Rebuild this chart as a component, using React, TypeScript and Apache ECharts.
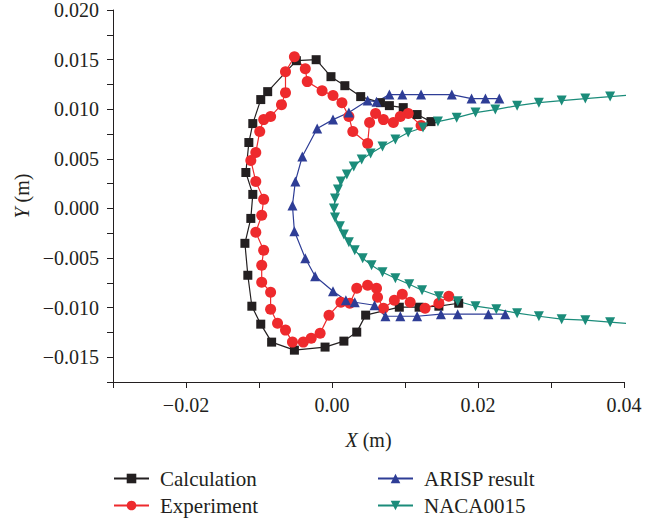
import React, { useEffect, useRef } from "react";
import * as echarts from "echarts";

const seriesNames = ["Calculation", "Experiment", "ARISP result", "NACA0015"];

const calculation: number[][] = [
  [0.01356, 0.00875], [0.01166, 0.00946], [0.00976, 0.01016], [0.00786, 0.01036],
  [0.00664, 0.01066], [0.00393, 0.01127], [0.00176, 0.01237], [-0.00014, 0.01328],
  [-0.00217, 0.01499], [-0.00488, 0.01489], [-0.00881, 0.01177], [-0.00976, 0.01097],
  [-0.01085, 0.00855], [-0.01139, 0.00664], [-0.0118, 0.00362], [-0.01085, 0.00141],
  [-0.01112, -0.00101], [-0.01193, -0.00352], [-0.01153, -0.00674], [-0.01098, -0.00986],
  [-0.00976, -0.01167], [-0.00827, -0.01348], [-0.00515, -0.01429], [-0.00095, -0.01398],
  [0.00163, -0.01338], [0.00339, -0.01247], [0.00461, -0.01076], [0.00922, -0.00996],
  [0.01193, -0.00996], [0.01464, -0.00986], [0.01736, -0.00956],
];

const experiment: number[][] = [
  [0.0122, 0.00835], [0.01044, 0.00956], [0.00936, 0.00926], [0.00841, 0.00865],
  [0.00705, 0.00895], [0.00597, 0.00956], [0.00515, 0.00865], [0.00488, 0.00654],
  [0.00285, 0.00775], [0.00231, 0.00926], [0.00136, 0.01066], [0.00014, 0.01137],
  [-0.00136, 0.01187], [-0.00339, 0.01278], [-0.00366, 0.01408], [-0.00515, 0.01529],
  [-0.00637, 0.01378], [-0.00637, 0.01167], [-0.00692, 0.01046], [-0.00841, 0.00926],
  [-0.00936, 0.00895], [-0.0099, 0.00775], [-0.01044, 0.00563], [-0.01112, 0.00483],
  [-0.01044, 0.00272], [-0.00936, 0.00091], [-0.00963, -0.0007], [-0.01044, -0.00241],
  [-0.00936, -0.00423], [-0.00963, -0.00573], [-0.00963, -0.00744], [-0.00841, -0.00845],
  [-0.00841, -0.01016], [-0.00746, -0.01157], [-0.00637, -0.01227], [-0.00542, -0.01348],
  [-0.00393, -0.01348], [-0.00285, -0.01308], [-0.00163, -0.01258], [-0.00041, -0.01076],
  [0.00122, -0.00946], [0.00244, -0.00956], [0.00339, -0.00805], [0.00488, -0.00775],
  [0.0061, -0.00805], [0.00624, -0.00895], [0.00705, -0.01006], [0.00854, -0.00926],
  [0.00963, -0.00865], [0.01071, -0.00946], [0.01275, -0.01006], [0.01464, -0.00956],
  [0.016, -0.00885],
];

const arisp: number[][] = [
  [0.02292, 0.01107], [0.02102, 0.01107], [0.01912, 0.01107], [0.01641, 0.01147],
  [0.0122, 0.01147], [0.00963, 0.01147], [0.00786, 0.01147], [0.0061, 0.01076],
  [0.00488, 0.01087], [0.00231, 0.00966], [0.00014, 0.00895], [-0.00203, 0.00805],
  [-0.00407, 0.00523], [-0.00502, 0.00272], [-0.00542, 0.0003], [-0.00515, -0.00231],
  [-0.00366, -0.00503], [-0.00231, -0.00684], [0.00014, -0.00835], [0.0019, -0.00926],
  [0.00312, -0.00946], [0.00583, -0.00976], [0.00732, -0.01087], [0.00936, -0.01087],
  [0.01166, -0.01087], [0.01492, -0.01066], [0.01722, -0.01066], [0.02142, -0.01066],
  [0.02373, -0.01066],
];

const naca: number[][] = [
  [0.0415, 0.01145], [0.0381, 0.01127], [0.0347, 0.01107], [0.03146, 0.01087],
  [0.02834, 0.01066], [0.02536, 0.01036], [0.02237, 0.00996], [0.01966, 0.00966],
  [0.01708, 0.00915], [0.01451, 0.00875], [0.01247, 0.00815], [0.01044, 0.00765],
  [0.00868, 0.00694], [0.00692, 0.00624], [0.00529, 0.00553], [0.00407, 0.00493],
  [0.00298, 0.00423], [0.00203, 0.00342], [0.00122, 0.00272], [0.00081, 0.00191],
  [0.00041, 0.00101], [0.00027, 0.0], [0.00041, -0.00091], [0.00108, -0.00181],
  [0.00163, -0.00262], [0.00231, -0.00342], [0.00312, -0.00423], [0.0042, -0.00503],
  [0.00542, -0.00573], [0.00692, -0.00644], [0.00868, -0.00704], [0.01058, -0.00765],
  [0.01234, -0.00825], [0.01464, -0.00885], [0.01722, -0.00936], [0.01966, -0.00986],
  [0.02251, -0.01016], [0.02536, -0.01056], [0.02834, -0.01087], [0.03146, -0.01117],
  [0.0347, -0.01127], [0.0381, -0.01147], [0.0415, -0.01165],
];

const xLabelValues = [-0.02, 0.0, 0.02, 0.04];
const yLabelValues = [-0.015, -0.01, -0.005, 0.0, 0.005, 0.01, 0.015, 0.02];

const FONT = "Liberation Serif";
const INK = "#231f20";

function fmt(v: number, digits: number): string {
  const s = Math.abs(v).toFixed(digits);
  return v < -1e-9 ? "\u2212" + s : s;
}

function isLabel(v: number, list: number[]): boolean {
  return list.some((t) => Math.abs(t - v) < 1e-7);
}

export default function App() {
  const ref = useRef<HTMLDivElement>(null);

  useEffect(() => {
    if (!ref.current) return;
    const chart = echarts.init(ref.current, null, { renderer: "svg" });

    const mk = (
      name: string,
      data: number[][],
      color: string,
      symbol: string,
      size: number,
      rotate = 0
    ) => ({
      name,
      type: "line",
      data,
      symbol,
      symbolSize: size,
      symbolRotate: rotate,
      showSymbol: true,
      clip: true,
      lineStyle: { color, width: 1.2 },
      itemStyle: { color, borderWidth: 0 },
      z: 2,
    });

    const legendText = { fontFamily: FONT, fontSize: 21, color: INK, padding: [0, 0, 0, 6] };

    chart.setOption({
      animation: false,
      backgroundColor: "#ffffff",
      grid: { left: 113, right: 38, top: 10, bottom: 140, containLabel: false },
      legend: [
        {
          id: "lg1",
          show: true,
          orient: "vertical",
          left: 113,
          top: 468,
          width: 200,
          height: 60,
          itemWidth: 35,
          itemHeight: 12,
          itemGap: 6,
          padding: 0,
          textStyle: legendText,
          data: [seriesNames[0], seriesNames[1]],
        },
        {
          id: "lg2",
          show: true,
          orient: "vertical",
          left: 377,
          top: 468,
          width: 250,
          height: 60,
          itemWidth: 35,
          itemHeight: 12,
          itemGap: 6,
          padding: 0,
          textStyle: legendText,
          data: [seriesNames[2], seriesNames[3]],
        },
      ],
      xAxis: {
        type: "value",
        min: -0.03,
        max: 0.04,
        interval: 0.01,
        splitLine: { show: false },
        axisLine: { onZero: false, lineStyle: { color: INK, width: 1 } },
        axisTick: { show: true, inside: false, length: 6, lineStyle: { color: INK } },
        axisLabel: {
          margin: 13,
          fontFamily: FONT,
          fontSize: 20,
          color: INK,
          showMinLabel: true,
          showMaxLabel: true,
          formatter: (v: number) => (isLabel(v, xLabelValues) ? fmt(v, 2) : ""),
        },
        name: "{i|X} (m)",
        nameLocation: "middle",
        nameGap: 48,
        nameTextStyle: {
          fontFamily: FONT,
          fontSize: 20,
          color: INK,
          rich: { i: { fontFamily: FONT, fontSize: 20, fontStyle: "italic", color: INK } },
        },
      },
      yAxis: {
        type: "value",
        min: -0.0175,
        max: 0.02,
        interval: 0.0025,
        splitLine: { show: false },
        axisLine: { onZero: false, lineStyle: { color: INK, width: 1 } },
        axisTick: { show: true, inside: false, length: 6, lineStyle: { color: INK } },
        axisLabel: {
          margin: 14,
          fontFamily: FONT,
          fontSize: 20,
          color: INK,
          formatter: (v: number) => (isLabel(v, yLabelValues) ? fmt(v, 3) : ""),
        },
        name: "{i|Y} (m)",
        nameLocation: "middle",
        nameRotate: 90,
        nameGap: 72,
        nameTextStyle: {
          fontFamily: FONT,
          fontSize: 20,
          color: INK,
          rich: { i: { fontFamily: FONT, fontSize: 20, fontStyle: "italic", color: INK } },
        },
      },
      series: [
        mk(seriesNames[0], calculation, "#231f20", "rect", 9),
        mk(seriesNames[1], experiment, "#ee2a2d", "circle", 11),
        mk(seriesNames[2], arisp, "#2e3d96", "triangle", 10),
        mk(seriesNames[3], naca, "#1b8c7a", "triangle", 10, 180),
      ],
    });

    return () => chart.dispose();
  }, []);

  return (
    <div
      ref={ref}
      style={{ position: "fixed", left: 0, top: 0, width: 662, height: 522, background: "#fff" }}
    />
  );
}
